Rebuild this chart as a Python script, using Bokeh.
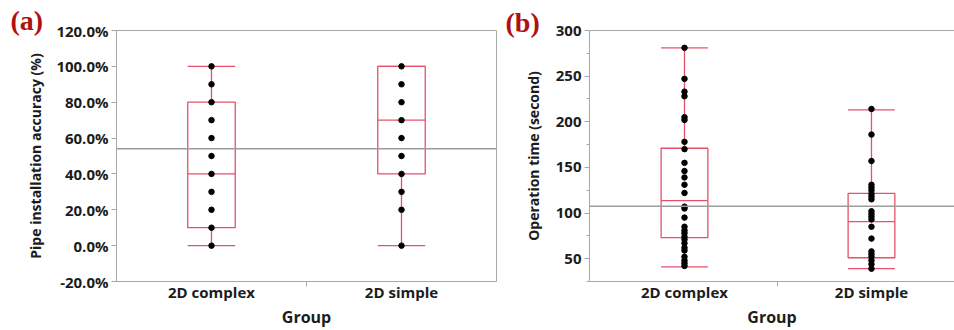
from bokeh.plotting import figure
from bokeh.layouts import row
from bokeh.models import Span, Title, FixedTicker, NumeralTickFormatter, LinearAxis, Range1d
from bokeh.embed import file_html
from bokeh.resources import INLINE

# ---------------- data ----------------
groups = ["2D complex", "2D simple"]

# (a) pipe installation accuracy (fractions)
acc_complex = [0.0, 0.1, 0.2, 0.3, 0.4, 0.5, 0.6, 0.7, 0.8, 0.9, 1.0]
acc_simple = [0.0, 0.2, 0.3, 0.4, 0.5, 0.6, 0.7, 0.8, 0.9, 1.0]
acc_lower = [0.0, 0.0]
acc_q1 = [0.1, 0.4]
acc_median = [0.4, 0.7]
acc_q3 = [0.8, 1.0]
acc_upper = [1.0, 1.0]
acc_mean = 0.54
acc_ticks = [-0.2, 0.0, 0.2, 0.4, 0.6, 0.8, 1.0, 1.2]

# (b) operation time (seconds)
time_complex = [281, 247, 233, 228, 205, 202, 178, 170, 155, 146, 139, 131, 122,
                107, 105, 95, 85, 81, 78, 74, 71, 67, 62, 59, 52, 48, 45, 42]
time_simple = [214, 186, 157, 131, 128, 125, 121, 118, 115, 102, 99, 96, 93, 85,
               72, 58, 55, 52, 48, 44, 39]
time_lower = [41, 39]
time_q1 = [73, 51]
time_median = [113.5, 90.5]
time_q3 = [171, 121.5]
time_upper = [281, 213]
time_mean = 107.5
time_ticks = [50, 100, 150, 200, 250, 300]
time_minor = [25, 75, 125, 175, 225, 275]

# ---------------- style ----------------
BOX = "#e6506a"
GRAY = "#a8a8a8"
MEAN = "#9c9c9c"
FONT = "Open Sans"
TXT = "#1c1c1c"
PANEL_RED = "#b01010"

xs = [i + 0.5 for i in range(len(groups))]
HW = 0.125


def style_axes(p, ylabel, ylabel_standoff):
    for ax in (p.xaxis[0], p.yaxis[0]):
        ax.axis_line_color = GRAY
        ax.major_tick_line_color = GRAY
        ax.minor_tick_line_color = GRAY
        ax.major_label_text_font = FONT
        ax.major_label_text_font_style = "bold"
        ax.major_label_text_font_size = "15px"
        ax.major_label_text_color = TXT
        ax.axis_label_text_font = FONT
        ax.axis_label_text_font_style = "bold"
        ax.axis_label_text_font_size = "14px"
        ax.axis_label_text_color = TXT
    p.yaxis.axis_label = ylabel
    p.yaxis.major_tick_out = 5
    p.yaxis.major_tick_in = 0
    p.yaxis.minor_tick_out = 3
    p.yaxis.minor_tick_in = 0
    p.yaxis.major_label_standoff = 3
    p.yaxis.axis_label_standoff = ylabel_standoff
    p.xaxis.axis_label = "Group"
    p.xaxis.axis_label_text_font_size = "16px"
    p.xaxis.ticker = FixedTicker(ticks=xs, minor_ticks=[1.0])
    p.xaxis.major_label_overrides = {x: g for x, g in zip(xs, groups)}
    p.xaxis.major_tick_out = 0
    p.xaxis.major_tick_in = 0
    p.xaxis.minor_tick_out = 5
    p.xaxis.minor_tick_in = 0
    p.xaxis.major_label_standoff = -5
    p.xaxis.axis_label_standoff = 1
    p.xgrid.visible = False
    p.ygrid.visible = False


def draw_boxes(p, lower, q1, med, q3, upper, pts_lists):
    x0 = [x - HW for x in xs]
    x1 = [x + HW for x in xs]
    p.segment(x0=xs, x1=xs, y0=q3, y1=upper, line_color=BOX, line_width=1.3)
    p.segment(x0=xs, x1=xs, y0=lower, y1=q1, line_color=BOX, line_width=1.3)
    p.segment(x0=x0, x1=x1, y0=upper, y1=upper, line_color=BOX, line_width=1.3)
    p.segment(x0=x0, x1=x1, y0=lower, y1=lower, line_color=BOX, line_width=1.3)
    p.quad(left=x0, right=x1, bottom=q1, top=q3, fill_color=None,
           line_color=BOX, line_width=1.3)
    p.segment(x0=x0, x1=x1, y0=med, y1=med, line_color=BOX, line_width=1.3)
    for x, pts in zip(xs, pts_lists):
        p.scatter(x=[x] * len(pts), y=pts, size=5.5, color="black")


def panel_title(text, offset, standoff):
    return Title(text=text, align="left", offset=offset, standoff=standoff,
                 text_font="Liberation Serif", text_font_style="bold",
                 text_font_size="28px", text_color=PANEL_RED)


# ---------------- panel (a) ----------------
pa = figure(width=500, height=330, output_backend="svg", toolbar_location=None,
            x_range=Range1d(0, 2), y_range=Range1d(acc_ticks[0], acc_ticks[-1]),
            min_border_left=116, min_border_right=4, min_border_top=30,
            min_border_bottom=47)
pa.outline_line_color = GRAY
style_axes(pa, "Pipe installation accuracy (%)", 8)
pa.yaxis.ticker = FixedTicker(ticks=acc_ticks)
pa.yaxis.formatter = NumeralTickFormatter(format="0.0%")
pa.add_layout(Span(location=acc_mean, dimension="width", line_color=MEAN, line_width=1.5))
draw_boxes(pa, acc_lower, acc_q1, acc_median, acc_q3, acc_upper, [acc_complex, acc_simple])
pa.add_layout(panel_title("(a)", -106, -10), "above")

# ---------------- panel (b) ----------------
pb = figure(width=454, height=330, output_backend="svg", toolbar_location=None,
            x_range=Range1d(-0.008, 1.944), y_range=Range1d(25, 300),
            min_border_left=89, min_border_right=0, min_border_top=30,
            min_border_bottom=47)
pb.outline_line_color = None
style_axes(pb, "Operation time (second)", 10)
pb.yaxis.ticker = FixedTicker(ticks=time_ticks, minor_ticks=time_minor)
top_axis = LinearAxis(ticker=FixedTicker(ticks=[]), axis_line_color=GRAY,
                      major_tick_line_color=None, minor_tick_line_color=None)
pb.add_layout(top_axis, "above")
pb.add_layout(Span(location=time_mean, dimension="width", line_color=MEAN, line_width=1.5))
draw_boxes(pb, time_lower, time_q1, time_median, time_q3, time_upper, [time_complex, time_simple])
pb.add_layout(panel_title("(b)", -84, -14), "above")

layout = row(pa, pb)
open("out.html", "w").write(file_html(layout, INLINE))
